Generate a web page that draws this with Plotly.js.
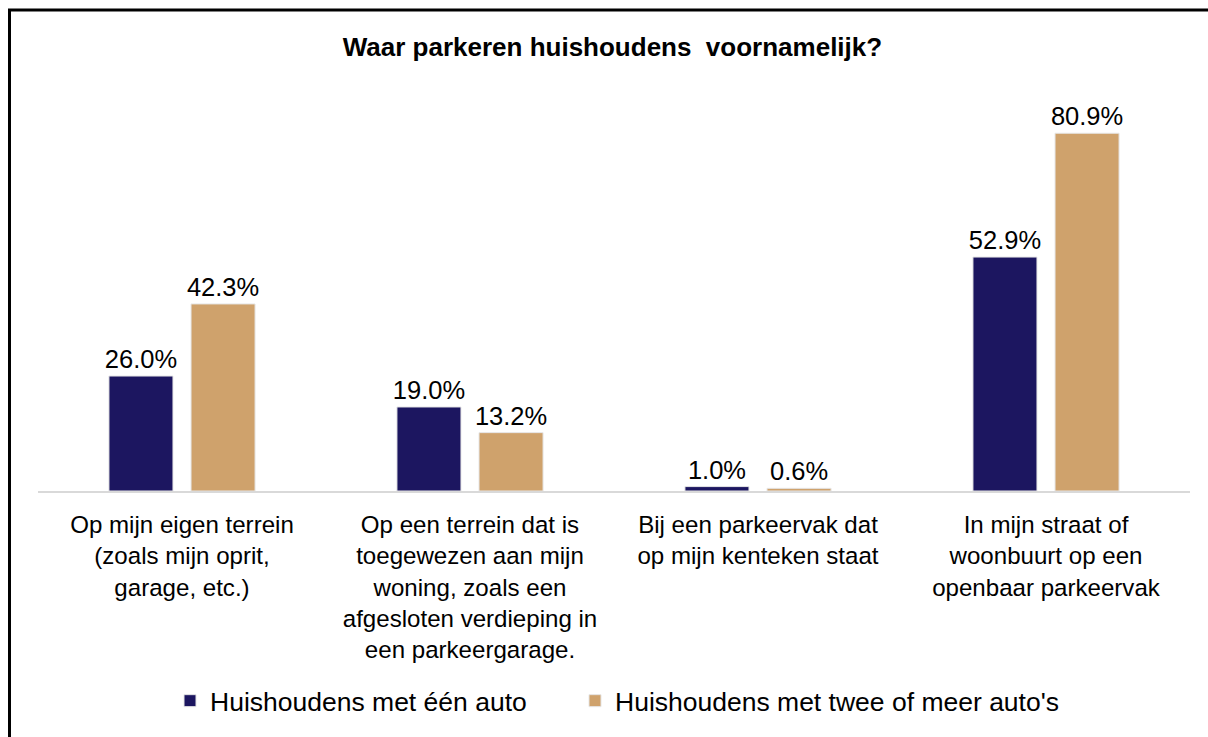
<!DOCTYPE html>
<html>
<head>
<meta charset="utf-8">
<script src="https://cdn.plot.ly/plotly-3.0.1.min.js"></script>
<style>html,body{margin:0;padding:0;background:#fff;}#chart{width:1208px;height:737px;}</style>
</head>
<body>
<div id="chart"></div>
<script>
const categories = [
  "Op mijn eigen terrein<br>(zoals mijn oprit,<br>garage, etc.)",
  "Op een terrein dat is<br>toegewezen aan mijn<br>woning, zoals een<br>afgesloten verdieping in<br>een parkeergarage.",
  "Bij een parkeervak dat<br>op mijn kenteken staat",
  "In mijn straat of<br>woonbuurt op een<br>openbaar parkeervak"
];
const seriesNames = ["Huishoudens met één auto", "Huishoudens met twee of meer auto's"];
const oneCar = [26.0, 19.0, 1.0, 52.9];
const twoPlusCars = [42.3, 13.2, 0.6, 80.9];
const colors = ["#1C1660", "#CFA26C"];

const FONT = "Liberation Sans, Arial, sans-serif";
const mk = (name, vals, color, legendId) => ({
  type: "bar",
  name: name,
  x: categories,
  y: vals,
  legend: legendId,
  marker: {color: color, line: {color: "#e6e6e6", width: 1}},
  texttemplate: "%{y:.1f}%",
  textposition: "outside",
  constraintext: "none",
  textfont: {family: FONT, size: 25.5, color: "#000"},
  cliponaxis: false,
  hoverinfo: "skip"
});

const data = [
  mk(seriesNames[0], oneCar, colors[0], "legend"),
  mk(seriesNames[1], twoPlusCars, colors[1], "legend2")
];

// pixel helpers for the frame shape / legend placement
const L = 38, R = 1190, T = 93, B = 493;
const px = v => (v - L) / (R - L);
const py = v => (B - v) / (B - T);

const legendBase = {
  orientation: "h",
  xanchor: "left",
  y: py(704), yanchor: "middle",
  font: {family: FONT, size: 26.5, color: "#000"},
  itemwidth: 30,
  bgcolor: "rgba(0,0,0,0)"
};

const layout = {
  width: 1208,
  height: 737,
  paper_bgcolor: "#fff",
  plot_bgcolor: "#fff",
  margin: {l: L, r: 1208 - R, t: T, b: 737 - B, pad: 0},
  font: {family: FONT, size: 25, color: "#000"},
  title: {
    text: "<b>Waar parkeren huishoudens  voornamelijk?</b>",
    font: {family: FONT, size: 26, color: "#000"},
    x: 0.507, xanchor: "center",
    y: 1 - 47 / 737, yanchor: "middle", yref: "container"
  },
  barmode: "group",
  bargap: 0.43,
  bargroupgap: 0.22,
  xaxis: {
    showline: true, linecolor: "#d9d9d9", linewidth: 2,
    ticks: "", showgrid: false, zeroline: false,
    tickfont: {family: FONT, size: 24.1, color: "#000"},
    ticklabelstandoff: 11,
    fixedrange: true
  },
  yaxis: {
    range: [0, 90], visible: false, showgrid: false, zeroline: false, fixedrange: true
  },
  showlegend: true,
  legend: Object.assign({}, legendBase, {x: px(170)}),
  legend2: Object.assign({}, legendBase, {x: px(575)}),
  shapes: [{
    type: "rect", xref: "paper", yref: "paper",
    x0: px(9.5), x1: px(1230), y0: py(760), y1: py(9.5),
    line: {color: "#000", width: 3}, fillcolor: "rgba(0,0,0,0)", layer: "above"
  }]
};

Plotly.newPlot("chart", data, layout, {staticPlot: true, displayModeBar: false});
</script>
</body>
</html>
